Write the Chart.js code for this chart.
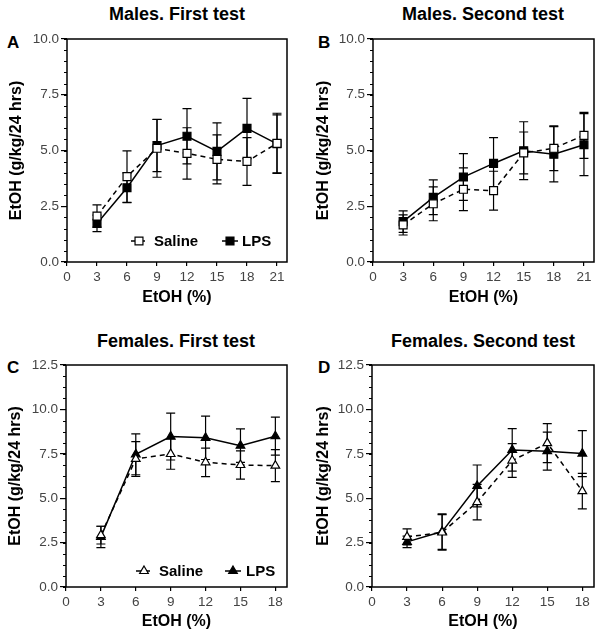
<!DOCTYPE html>
<html>
<head>
<meta charset="utf-8">
<script src="https://cdn.jsdelivr.net/npm/chart.js@4.4.1/dist/chart.umd.min.js"></script>
<style>
  body { margin: 0; background: #fff; }
  #wrap { position: relative; width: 602px; height: 637px; background: #fff; font-family: Arial, "Liberation Sans", sans-serif; color: #000; }
  canvas { position: absolute; }
  .ttl { position: absolute; font-weight: bold; font-size: 18px; line-height: 18px; white-space: nowrap; transform: translateX(-50%); }
  .let { position: absolute; font-weight: bold; font-size: 17px; line-height: 17px; }
</style>
</head>
<body>
<div id="wrap">
  <div class="ttl" style="left:177px;top:5px">Males. First test</div>
  <div class="ttl" style="left:483px;top:5px">Males. Second test</div>
  <div class="ttl" style="left:176px;top:332px">Females. First test</div>
  <div class="ttl" style="left:483px;top:332px">Females. Second test</div>
  <div class="let" style="left:7px;top:34px">A</div>
  <div class="let" style="left:318px;top:34px">B</div>
  <div class="let" style="left:7px;top:359px">C</div>
  <div class="let" style="left:318px;top:359px">D</div>
  <canvas id="cA" width="301" height="318" style="left:0;top:0"></canvas>
  <canvas id="cB" width="301" height="318" style="left:301px;top:0"></canvas>
  <canvas id="cC" width="301" height="319" style="left:0;top:318px"></canvas>
  <canvas id="cD" width="301" height="319" style="left:301px;top:318px"></canvas>
</div>
<script>
// EtOH concentrations (%)
const xMales = [3, 6, 9, 12, 15, 18, 21];
const xFemales = [3, 6, 9, 12, 15, 18];
const xTicksMales = [0, 3, 6, 9, 12, 15, 18, 21];
const xTicksFemales = [0, 3, 6, 9, 12, 15, 18];
const yTicksMales = [0, 2.5, 5, 7.5, 10];
const yTicksFemales = [0, 2.5, 5, 7.5, 10, 12.5];

// intake, g/kg/24 hrs (mean and SEM)
const malesFirstSaline = [2.06, 3.83, 5.10, 4.87, 4.60, 4.51, 5.32];
const malesFirstSalineSem = [0.50, 1.15, 1.30, 1.15, 1.10, 1.07, 1.35];
const malesFirstLps = [1.73, 3.33, 5.22, 5.64, 4.96, 5.99, 5.30];
const malesFirstLpsSem = [0.37, 0.67, 1.17, 1.24, 1.28, 1.35, 1.30];

const malesSecondSaline = [1.66, 2.61, 3.26, 3.20, 4.89, 5.10, 5.68];
const malesSecondSalineSem = [0.45, 0.76, 0.96, 0.87, 0.94, 1.00, 1.03];
const malesSecondLps = [1.81, 2.90, 3.81, 4.42, 4.99, 4.83, 5.26];
const malesSecondLpsSem = [0.48, 0.78, 1.05, 1.16, 1.30, 1.24, 1.39];

const femalesFirstSaline = [2.92, 7.21, 7.49, 7.02, 6.87, 6.83];
const femalesFirstSalineSem = [0.50, 0.98, 0.86, 0.80, 0.80, 0.90];
const femalesFirstLps = [2.82, 7.47, 8.47, 8.40, 7.96, 8.49];
const femalesFirstLpsSem = [0.60, 1.15, 1.32, 1.22, 0.94, 1.07];

const femalesSecondSaline = [2.82, 3.07, 4.78, 7.12, 8.10, 5.40];
const femalesSecondSalineSem = [0.45, 1.00, 1.00, 0.95, 1.10, 1.00];
const femalesSecondLps = [2.54, 3.12, 5.69, 7.72, 7.65, 7.51];
const femalesSecondLpsSem = [0.32, 1.00, 1.18, 1.20, 1.07, 1.30];

Chart.defaults.font.family = 'Arial, "Liberation Sans", sans-serif';

const panelExtras = {
  id: 'panelExtras',
  beforeDatasetsDraw(chart, args, opts) {
    const { ctx, chartArea: a, scales: { y } } = chart;
    ctx.save();
    ctx.strokeStyle = '#000';
    ctx.lineWidth = 1;
    // minor ticks on the y axis
    for (let v = y.min; v <= y.max + 1e-6; v += opts.minorStep) {
      const py = Math.round(y.getPixelForValue(v)) + 0.5;
      ctx.beginPath();
      ctx.moveTo(a.left - 3, py);
      ctx.lineTo(a.left, py);
      ctx.stroke();
    }
    // error bars
    ctx.lineWidth = 1.2;
    chart.data.datasets.forEach((ds, di) => {
      const meta = chart.getDatasetMeta(di);
      ds.data.forEach((p, i) => {
        const px = meta.data[i].x;
        const top = y.getPixelForValue(p.y + ds.sem[i]);
        const bot = y.getPixelForValue(p.y - ds.sem[i]);
        ctx.beginPath();
        ctx.moveTo(px, top); ctx.lineTo(px, bot);
        ctx.moveTo(px - 4.5, top); ctx.lineTo(px + 4.5, top);
        ctx.moveTo(px - 4.5, bot); ctx.lineTo(px + 4.5, bot);
        ctx.stroke();
      });
    });
    ctx.restore();
  },
  afterDraw(chart, args, opts) {
    const { ctx, chartArea: a } = chart;
    ctx.save();
    ctx.strokeStyle = '#000';
    ctx.lineWidth = 1.5;
    ctx.strokeRect(a.left, a.top, a.right - a.left, a.bottom - a.top);
    if (opts.legend) {
      const ly = a.bottom - opts.legend.y;
      opts.legend.items.forEach(it => {
        const ds = chart.data.datasets[it.ds];
        const mx = a.left + it.x;
        ctx.strokeStyle = '#000';
        ctx.lineWidth = ds.borderWidth;
        ctx.setLineDash(ds.borderDash || []);
        ctx.beginPath();
        ctx.moveTo(mx - 8, ly); ctx.lineTo(mx + 8, ly);
        ctx.stroke();
        ctx.setLineDash([]);
        ctx.fillStyle = ds.pointBackgroundColor;
        ctx.lineWidth = ds.pointBorderWidth;
        Chart.helpers.drawPoint(ctx, { pointStyle: ds.pointStyle, radius: ds.pointRadius, borderWidth: ds.pointBorderWidth, rotation: 0 }, mx, ly);
        ctx.fillStyle = '#000';
        ctx.font = 'bold 15px Arial, "Liberation Sans", sans-serif';
        ctx.textBaseline = 'middle';
        ctx.fillText(ds.label, mx + it.tx, ly + 1);
      });
    }
    ctx.restore();
  }
};

function makePanel(id, p) {
  const canvas = document.getElementById(id);
  const W = canvas.width, H = canvas.height;
  const radius = p.marker === 'rect' ? 5.6 : 5;
  const common = {
    borderColor: '#000', borderWidth: 1.5, pointStyle: p.marker, pointRadius: radius,
    pointBorderColor: '#000', pointBorderWidth: 1.2, fill: false, tension: 0
  };
  new Chart(canvas, {
    type: 'line',
    data: {
      datasets: [
        Object.assign({}, common, {
          label: 'Saline', data: p.x.map((x, i) => ({ x: x, y: p.saline[i] })), sem: p.salineSem,
          borderDash: [5, 4], pointBackgroundColor: '#fff'
        }),
        Object.assign({}, common, {
          label: 'LPS', data: p.x.map((x, i) => ({ x: x, y: p.lps[i] })), sem: p.lpsSem,
          pointBackgroundColor: '#000'
        })
      ]
    },
    options: {
      responsive: false,
      animation: false,
      layout: { padding: { top: p.area.t, right: W - p.area.r, left: 0, bottom: 0 } },
      plugins: {
        legend: { display: false },
        tooltip: { enabled: false },
        panelExtras: { minorStep: p.minorStep, legend: p.legend }
      },
      scales: {
        x: {
          type: 'linear', min: 0, max: p.xMax,
          afterBuildTicks: s => { s.ticks = p.xTicks.map(v => ({ value: v })); },
          afterFit: s => { s.height = H - p.area.b; },
          ticks: { callback: v => String(v), color: '#444', font: { size: 13.5 }, padding: 3, maxRotation: 0, autoSkip: false },
          grid: { drawOnChartArea: false, tickLength: 4, color: '#000', lineWidth: 1.2 },
          border: { display: false },
          title: { display: true, text: 'EtOH (%)', color: '#000', font: { size: 16, weight: 'bold' }, padding: { top: 0, bottom: p.xTitlePad } }
        },
        y: {
          type: 'linear', min: 0, max: p.yMax,
          afterBuildTicks: s => { s.ticks = p.yTicks.map(v => ({ value: v })); },
          afterFit: s => { s.width = p.area.l; },
          ticks: { callback: v => v.toFixed(1), color: '#444', font: { size: 13.5 }, padding: 2 },
          grid: { drawOnChartArea: false, tickLength: 6, color: '#000', lineWidth: 1.2 },
          border: { display: false },
          title: { display: true, text: 'EtOH (g/kg/24 hrs)', color: '#000', font: { size: 16, weight: 'bold' }, padding: { top: p.yTitlePad, bottom: 0 } }
        }
      }
    },
    plugins: [panelExtras]
  });
}

makePanel('cA', {
  x: xMales, xTicks: xTicksMales, xMax: 22, yTicks: yTicksMales, yMax: 10, minorStep: 0.5,
  saline: malesFirstSaline, salineSem: malesFirstSalineSem, lps: malesFirstLps, lpsSem: malesFirstLpsSem,
  marker: 'rect', area: { l: 67, t: 39, r: 287, b: 262 }, xTitlePad: 11, yTitlePad: 7,
  legend: { y: 21, items: [{ ds: 0, x: 72, tx: 15 }, { ds: 1, x: 163, tx: 12 }] }
});
makePanel('cB', {
  x: xMales, xTicks: xTicksMales, xMax: 22, yTicks: yTicksMales, yMax: 10, minorStep: 0.5,
  saline: malesSecondSaline, salineSem: malesSecondSalineSem, lps: malesSecondLps, lpsSem: malesSecondLpsSem,
  marker: 'rect', area: { l: 72, t: 39, r: 293, b: 262 }, xTitlePad: 11, yTitlePad: 13
});
makePanel('cC', {
  x: xFemales, xTicks: xTicksFemales, xMax: 19, yTicks: yTicksFemales, yMax: 12.5, minorStep: 0.625,
  saline: femalesFirstSaline, salineSem: femalesFirstSalineSem, lps: femalesFirstLps, lpsSem: femalesFirstLpsSem,
  marker: 'triangle', area: { l: 66, t: 47, r: 287, b: 269 }, xTitlePad: 6, yTitlePad: 6,
  legend: { y: 16, items: [{ ds: 0, x: 78, tx: 15 }, { ds: 1, x: 167, tx: 13 }] }
});
makePanel('cD', {
  x: xFemales, xTicks: xTicksFemales, xMax: 19, yTicks: yTicksFemales, yMax: 12.5, minorStep: 0.625,
  saline: femalesSecondSaline, salineSem: femalesSecondSalineSem, lps: femalesSecondLps, lpsSem: femalesSecondLpsSem,
  marker: 'triangle', area: { l: 71, t: 47, r: 293, b: 269 }, xTitlePad: 6, yTitlePad: 13
});
</script>
</body>
</html>
